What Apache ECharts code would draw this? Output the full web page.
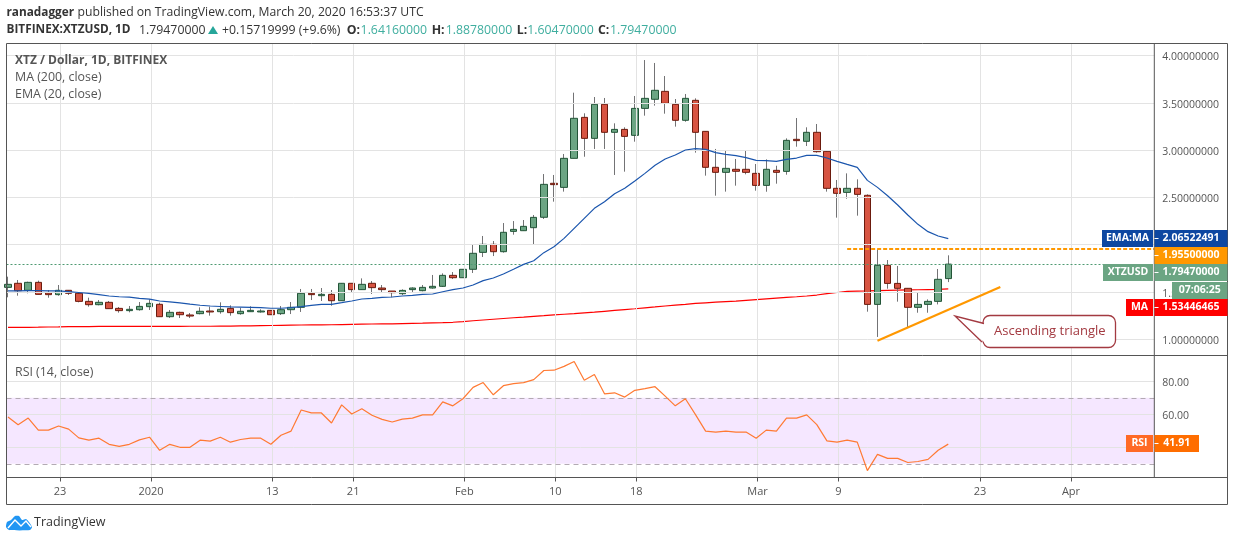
<!DOCTYPE html>
<html><head><meta charset="utf-8">
<style>html,body{margin:0;padding:0;background:#fff}#c{width:1234px;height:541px}</style>
<script src="https://cdn.jsdelivr.net/npm/echarts@6/dist/echarts.min.js"></script>
</head><body><div id="c"></div>
<script>
const opens=[1.549,1.592,1.518,1.602,1.489,1.472,1.518,1.486,1.401,1.366,1.391,1.327,1.303,1.313,1.345,1.370,1.239,1.285,1.257,1.271,1.299,1.292,1.327,1.271,1.292,1.289,1.306,1.271,1.313,1.338,1.486,1.461,1.475,1.408,1.592,1.525,1.592,1.542,1.510,1.482,1.525,1.514,1.542,1.560,1.676,1.651,1.740,1.919,2.004,1.926,2.141,2.148,2.180,2.290,2.649,2.606,2.913,3.346,3.124,3.484,3.188,3.219,3.156,3.441,3.537,3.621,3.484,3.315,3.526,3.198,2.818,2.765,2.797,2.797,2.754,2.627,2.786,2.775,3.114,3.093,3.188,2.987,2.596,2.553,2.596,2.522,1.369,1.782,1.591,1.539,1.338,1.369,1.401,1.6416];
const closes=[1.581,1.514,1.602,1.475,1.472,1.518,1.486,1.401,1.366,1.391,1.324,1.303,1.317,1.348,1.380,1.239,1.285,1.260,1.246,1.296,1.289,1.317,1.282,1.296,1.306,1.299,1.260,1.313,1.338,1.486,1.472,1.475,1.408,1.592,1.525,1.581,1.546,1.525,1.493,1.517,1.542,1.549,1.560,1.676,1.651,1.740,1.909,2.004,1.926,2.131,2.162,2.194,2.289,2.638,2.635,2.913,3.336,3.124,3.484,3.188,3.219,3.145,3.441,3.547,3.632,3.494,3.315,3.547,3.188,2.818,2.765,2.807,2.776,2.765,2.627,2.797,2.765,3.103,3.100,3.188,2.983,2.596,2.543,2.596,2.532,1.369,1.782,1.591,1.539,1.338,1.369,1.401,1.634,1.7947];
const lows=[1.444,1.461,1.486,1.475,1.440,1.461,1.468,1.391,1.345,1.359,1.324,1.282,1.285,1.303,1.310,1.239,1.225,1.225,1.225,1.264,1.250,1.271,1.250,1.260,1.292,1.282,1.257,1.257,1.267,1.289,1.415,1.405,1.355,1.408,1.493,1.525,1.479,1.489,1.444,1.468,1.493,1.507,1.535,1.553,1.637,1.651,1.701,1.870,1.880,1.916,2.106,2.148,2.007,2.272,2.455,2.561,2.913,2.930,3.012,3.012,2.737,2.772,3.089,3.364,3.470,3.385,3.248,3.300,2.973,2.730,2.518,2.561,2.624,2.744,2.571,2.560,2.645,2.740,3.036,3.043,2.973,2.561,2.286,2.486,2.307,1.292,1.025,1.535,1.398,1.126,1.281,1.281,1.369,1.6047];
const highs=[1.662,1.627,1.609,1.620,1.521,1.574,1.521,1.493,1.440,1.415,1.405,1.341,1.352,1.394,1.423,1.387,1.310,1.292,1.278,1.338,1.345,1.391,1.359,1.334,1.349,1.317,1.310,1.352,1.394,1.532,1.532,1.542,1.521,1.592,1.592,1.644,1.616,1.574,1.510,1.528,1.549,1.574,1.680,1.697,1.711,1.740,2.007,2.092,2.039,2.229,2.250,2.261,2.314,2.747,2.737,2.959,3.607,3.389,3.561,3.551,3.283,3.241,3.572,3.952,3.921,3.783,3.540,3.593,3.547,3.198,3.012,3.001,2.906,3.001,2.853,2.902,2.835,3.124,3.339,3.241,3.276,2.987,2.684,2.754,2.691,2.532,1.951,1.838,1.775,1.539,1.493,1.422,1.743,1.8878];
const ma200=[1.127,1.127,1.127,1.128,1.130,1.131,1.133,1.134,1.135,1.136,1.137,1.137,1.137,1.137,1.137,1.137,1.137,1.137,1.138,1.138,1.138,1.139,1.140,1.141,1.142,1.144,1.146,1.148,1.150,1.151,1.152,1.153,1.154,1.156,1.158,1.160,1.162,1.163,1.164,1.166,1.168,1.170,1.173,1.176,1.180,1.186,1.196,1.204,1.212,1.220,1.228,1.235,1.243,1.250,1.258,1.265,1.272,1.280,1.287,1.296,1.305,1.314,1.323,1.333,1.342,1.352,1.361,1.370,1.380,1.386,1.392,1.398,1.404,1.412,1.420,1.428,1.436,1.444,1.450,1.458,1.468,1.482,1.495,1.507,1.510,1.512,1.515,1.518,1.520,1.522,1.524,1.526,1.528,1.534];
const ema20=[1.511,1.512,1.514,1.514,1.512,1.511,1.505,1.495,1.485,1.472,1.458,1.450,1.445,1.433,1.425,1.405,1.395,1.385,1.372,1.360,1.352,1.347,1.342,1.340,1.338,1.335,1.328,1.328,1.335,1.345,1.359,1.370,1.370,1.387,1.405,1.426,1.433,1.444,1.447,1.458,1.465,1.475,1.479,1.503,1.525,1.542,1.574,1.620,1.648,1.690,1.740,1.792,1.831,1.916,1.979,2.067,2.173,2.279,2.384,2.455,2.539,2.596,2.673,2.754,2.839,2.906,2.948,3.001,3.015,3.008,2.973,2.955,2.941,2.920,2.892,2.888,2.881,2.902,2.916,2.945,2.945,2.916,2.881,2.849,2.818,2.680,2.606,2.518,2.420,2.314,2.215,2.138,2.092,2.065];
const rsi14=[58.4,53.7,57.7,50.4,50.4,52.9,51.0,45.7,44.3,45.5,41.8,40.6,41.8,44.5,46.1,38.2,41.8,40.0,40.0,44.3,43.7,46.1,43.1,44.7,45.5,45.5,41.8,47.3,49.8,62.6,60.8,60.8,54.7,65.7,60.2,63.3,59.4,56.9,55.3,57.1,57.7,59.6,59.6,67.5,65.1,69.4,76.3,79.2,71.8,77.3,78.6,79.2,81.0,86.5,86.7,89.0,92.0,80.6,84.1,72.4,73.0,70.4,74.5,75.5,76.7,71.0,65.1,69.4,59.8,49.8,49.2,49.8,49.2,49.2,45.5,50.4,49.8,57.7,57.7,59.6,53.7,43.9,43.1,44.3,43.1,25.9,35.7,33.3,33.3,30.8,31.4,32.7,38.2,41.91];
const dayTicks=[5,14,26,34,45,54,62,74,82,96,105];
const dayLabels=['23','2020','13','21','Feb','10','18','Mar','9','23','Apr'];
const priceTicks=[1,1.5,2,2.5,3,3.5,4];
const rsiTicks=[40,60,80];
const rsiBounds=[30,70];
const lastPrice=1.7947, resistance=1.955;
const trendFrom=[86,0.985], trendTo=[98.15,1.553];
const resistanceFromDay=83;

const FONT='"Open Sans"', TXT='#555', GRID='#e3e3e3', DARK='#555', HEAD='#333', UP='#3fae9f';
const L=6.5,AX=1154.3,RE=1227.5,T=43.5,M=355.5,B=477.5,OB=504.5;
const OFF=0.14;
const xmin=-0.148,xmax=113.38;
const tickX=dayTicks.map(d=>d+OFF);
const lineOpts={symbol:'none',silent:true,animation:false};
const mlGrid=(arr,key)=>arr.map(v=>({[key]:v}));
const mlStyle={color:GRID,width:1,type:'solid'};
const idx=opens.map((_,i)=>i);
const yLabelRich={t:{padding:[4,0,0,0],fontFamily:FONT,fontSize:10.5,color:TXT}};

function gridHelper(x,y,hVals,vVals){return {type:'line',xAxisIndex:x,yAxisIndex:y,data:[],z:0,silent:true,
  markLine:{silent:true,symbol:'none',animation:false,label:{show:false},lineStyle:mlStyle,
    data:mlGrid(hVals,'yAxis').concat(mlGrid(vVals,'xAxis'))}};}

function box(x,y,w,h,color,text){
  return {type:'rect',z:100,shape:{x,y,width:w,height:h},style:{fill:color},
    textContent:{z:101,style:{text,fill:'#fff',font:'bold 10.5px '+FONT}},
    textConfig:{position:'inside'}};
}
const priceBox=(y,h,color,text)=>[box(1154.5,y,(color==='#ff6d00'?44.5:73),h,color,text),
  {type:'line',z:102,silent:true,shape:{x1:1154.5,y1:y+h/2,x2:1158.5,y2:y+h/2},style:{stroke:'#fff',lineWidth:1}}];
const txt=(x,y,text,font,fill)=>({type:'text',z:96,silent:true,x,y,style:{text,fill:fill||TXT,font:font+' '+FONT,verticalAlign:'middle'}});
const H1=12.2+'px', H2=12.3+'px', HB=11.8+'px';
const gfx=[
 {type:'rect',z:90,silent:true,shape:{x:L,y:T,width:RE-L,height:OB-T},style:{fill:'none',stroke:DARK,lineWidth:1}},
 {type:'line',z:90,silent:true,shape:{x1:AX,y1:T,x2:AX,y2:B},style:{stroke:DARK,lineWidth:1}},
 {type:'line',z:90,silent:true,shape:{x1:L,y1:M,x2:RE,y2:M},style:{stroke:DARK,lineWidth:1}},
 {type:'line',z:90,silent:true,shape:{x1:L,y1:B,x2:RE,y2:B},style:{stroke:DARK,lineWidth:1}},
 box(1102,230,51,17,'#0d47a1','EMA:MA'),...priceBox(230,17,'#0d47a1','2.06522491'),
 ...priceBox(247,17,'#ff9800','1.95500000'),
 box(1103,264,50,17,'#6ba583','XTZUSD'),...priceBox(264,17,'#6ba583','1.79470000'),
 box(1172,282,55.5,17,'#6ba583','07:06:25'),
 box(1126,299,27,17,'#ff0000','MA'),...priceBox(299,17,'#ff0000','1.53446465'),
 box(1126,435,27,17,'#ff6a26','RSI'),...priceBox(435,17,'#ff6d00','41.91'),
 {type:'rect',z:95,silent:true,shape:{x:983,y:315.5,width:132.5,height:32,r:7},style:{fill:'#fff',stroke:'#a33a41',lineWidth:1.3}},
 {type:'polygon',z:95,silent:true,shape:{points:[[955,316],[984,324],[984,342]]},style:{fill:'#fff'}},
 {type:'polyline',z:95,silent:true,shape:{points:[[984,323.5],[955,316],[982,342]]},style:{fill:'none',stroke:'#a33a41',lineWidth:1.3}},
 txt(994,331.5,'Ascending triangle','13px','#a33a41'),
 txt(15,60.5,'XTZ / Dollar, 1D, BITFINEX','bold 12px'),
 txt(15,77.5,'MA (200, close)','12.4px'),
 txt(15,94.5,'EMA (20, close)','12.4px'),
 txt(15,372.5,'RSI (14, close)','12.4px'),
 {type:'polygon',z:96,silent:true,shape:{points:[[6,527],[7,522],[11,520],[15,516],[19,516],[22,520],[26,519],[29,522],[32,527],[30,530],[9,530]],smooth:0.2},style:{fill:'#2196f3'}},
 {type:'polyline',z:97,silent:true,shape:{points:[[8,528],[15,520],[21,526],[26,521],[31,527]]},style:{stroke:'#fff',lineWidth:1.4,fill:'none'}},
 txt(34,522.5,'TradingView','12.5px','#333'),
 txt(6.5,12.5,'ranadagger','bold '+HB,HEAD),
 txt(77.5,12.5,'published on TradingView.com, March 20, 2020 16:53:37 UTC',H1,HEAD),
 txt(6.5,30,'BITFINEX:XTZUSD, 1D','bold '+HB,HEAD),
 txt(139,30,'1.79470000',H2,HEAD),
 {type:'polygon',z:96,silent:true,shape:{points:[[208,34],[213,26],[218,34]]},style:{fill:'#26a69a'}},
 txt(222,30,'+0.15719999 (+9.6%)',H2,HEAD),
 txt(346.7,30,'O:','bold '+H2,HEAD), txt(360.6,30,'1.64160000',H2,UP),
 txt(431.7,30,'H:','bold '+H2,HEAD), txt(445.7,30,'1.88780000',H2,UP),
 txt(516.7,30,'L:','bold '+H2,HEAD), txt(527.3,30,'1.60470000',H2,UP),
 txt(598,30,'C:','bold '+H2,HEAD), txt(610,30,'1.79470000',H2,UP),
];

const chart=echarts.init(document.getElementById('c'),null,{renderer:'canvas'});
chart.setOption({
 animation:false,backgroundColor:'#fff',
 grid:[{left:L,top:T,width:AX-L,height:M-T},{left:L,top:M,width:AX-L,height:B-M}],
 xAxis:[0,1].map(g=>({type:'value',gridIndex:g,min:xmin,max:xmax,splitLine:{show:false},axisLine:{show:false},
   axisTick:g?{show:true,customValues:tickX,length:4,lineStyle:{color:DARK}}:{show:false},
   axisLabel:g?{show:true,customValues:tickX,margin:9,fontFamily:FONT,fontSize:11,color:TXT,
     formatter:v=>dayLabels[tickX.findIndex(t=>Math.abs(t-v)<1e-6)]||''}:{show:false}})),
 yAxis:[
  {type:'value',gridIndex:0,position:'right',min:0.8288,max:4.1268,splitLine:{show:false},axisLine:{show:false},
   axisTick:{show:true,customValues:priceTicks,length:4,lineStyle:{color:DARK}},
   axisLabel:{customValues:priceTicks,margin:8,rich:yLabelRich,formatter:v=>'{t|'+v.toFixed(8)+'}'}},
  {type:'value',gridIndex:1,position:'right',min:21.7,max:95.6,splitLine:{show:false},axisLine:{show:false},
   axisTick:{show:true,customValues:rsiTicks,length:4,lineStyle:{color:DARK}},
   axisLabel:{customValues:rsiTicks,margin:8,rich:yLabelRich,formatter:v=>'{t|'+v.toFixed(2)+'}'}}
 ],
 series:[
  gridHelper(0,0,priceTicks,tickX),
  gridHelper(1,1,rsiTicks,tickX),
  {type:'line',...lineOpts,xAxisIndex:0,yAxisIndex:0,data:[],z:1,
   markLine:{silent:true,symbol:'none',animation:false,label:{show:false},lineStyle:{color:'#4f9a72',width:1,type:[2,2]},data:[{yAxis:lastPrice}]}},
  {type:'line',...lineOpts,name:'MA',data:idx.map(i=>[i,ma200[i]]),lineStyle:{color:'#ff0000',width:1.2},z:2},
  {type:'candlestick',name:'wick',barWidth:1,encode:{x:0,y:[1,2,3,4]},z:3,silent:true,
   data:idx.map(i=>[i,opens[i],closes[i],lows[i],highs[i]]),
   itemStyle:{color:'#737375',color0:'#737375',borderColor:'#737375',borderColor0:'#737375',borderWidth:1}},
  {type:'candlestick',name:'XTZUSD',barWidth:7,encode:{x:0,y:[1,2,3,4]},z:4,silent:true,
   data:idx.map(i=>[i,opens[i],closes[i],Math.min(opens[i],closes[i]),Math.max(opens[i],closes[i])]),
   itemStyle:{color:'#6ba583',color0:'#d75442',borderColor:'#225437',borderColor0:'#6b1a0d',borderWidth:1}},
  {type:'line',...lineOpts,name:'EMA',data:idx.map(i=>[i,ema20[i]]),lineStyle:{color:'#1a55ad',width:1.2},z:5},
  {type:'line',...lineOpts,name:'Trend',data:[trendFrom,trendTo],lineStyle:{color:'#ff9800',width:2.2},z:6},
  {type:'line',...lineOpts,name:'Res',data:[[resistanceFromDay,resistance],[xmax,resistance]],lineStyle:{color:'#ff9800',width:2,type:[4,2]},z:6},
  {type:'line',...lineOpts,name:'RSI',xAxisIndex:1,yAxisIndex:1,data:idx.map(i=>[i,rsi14[i]]),lineStyle:{color:'#ff7a33',width:1.2},z:5,
   markArea:{silent:true,animation:false,itemStyle:{color:'rgba(153,21,255,0.1)'},data:[[{yAxis:rsiBounds[0]},{yAxis:rsiBounds[1]}]]},
   markLine:{silent:true,symbol:'none',animation:false,label:{show:false},lineStyle:{color:'#b3aab3',width:1,type:[5,4]},data:rsiBounds.map(v=>({yAxis:v}))}}
 ],
 graphic:{elements:gfx}
});
</script></body></html>
